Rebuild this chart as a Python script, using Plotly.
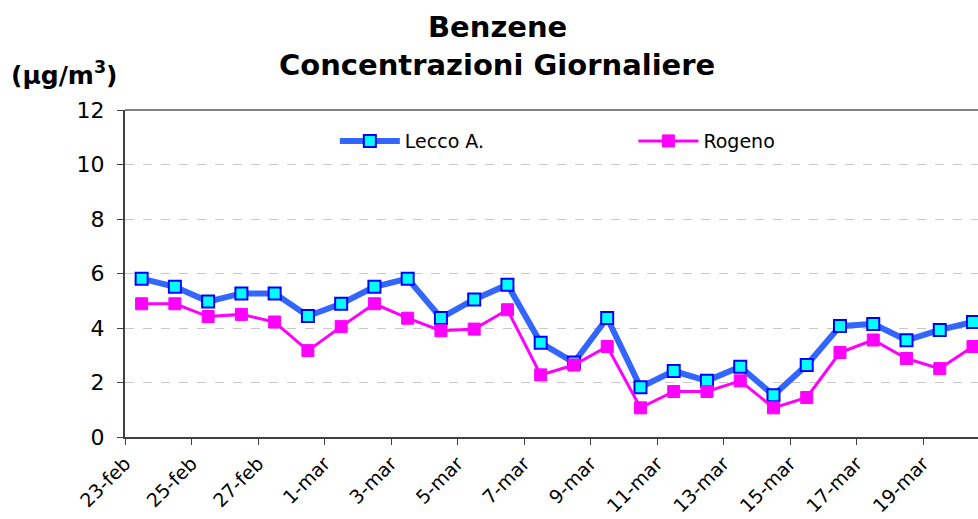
import plotly.graph_objects as go

days = ["23-feb", "24-feb", "25-feb", "26-feb", "27-feb", "28-feb",
        "1-mar", "2-mar", "3-mar", "4-mar", "5-mar", "6-mar", "7-mar",
        "8-mar", "9-mar", "10-mar", "11-mar", "12-mar", "13-mar", "14-mar",
        "15-mar", "16-mar", "17-mar", "18-mar", "19-mar", "20-mar"]

lecco = [5.81, 5.51, 4.97, 5.27, 5.27, 4.44, 4.89, 5.51, 5.81, 4.37, 5.05, 5.59, 3.46,
         2.73, 4.37, 1.83, 2.42, 2.06, 2.58, 1.53, 2.64, 4.07, 4.15, 3.55, 3.93, 4.22]

rogeno = [4.89, 4.89, 4.42, 4.50, 4.22, 3.17, 4.05, 4.89, 4.36, 3.90, 3.96, 4.67, 2.28,
          2.64, 3.32, 1.07, 1.67, 1.67, 2.06, 1.07, 1.45, 3.10, 3.56, 2.88, 2.51, 3.32]

y_ticks = [0, 2, 4, 6, 8, 10, 12]

FONT = "DejaVu Sans"
xs = list(range(len(days)))

W, H = 978, 519
ML, MT, MB = 125, 110, 82
PW, PH = W - ML, H - MT - MB

fig = go.Figure()
fig.add_trace(go.Scatter(
    x=xs, y=lecco, name="Lecco A.", mode="lines+markers", legend="legend",
    line=dict(color="#3366FF", width=6),
    marker=dict(symbol="square", size=12, color="#00FFFF",
                line=dict(color="#0000FF", width=2)),
    cliponaxis=False,
))
fig.add_trace(go.Scatter(
    x=xs, y=rogeno, name="Rogeno", mode="lines+markers", legend="legend2",
    line=dict(color="#FF00FF", width=3),
    marker=dict(symbol="square", size=12, color="#FF00FF",
                line=dict(color="#FF00FF", width=1)),
    cliponaxis=False,
))

legend_style = dict(
    orientation="h", yanchor="middle", y=0.905, xanchor="left",
    font=dict(family=FONT, size=19, color="black"),
    bgcolor="rgba(0,0,0,0)", itemwidth=60,
)

fig.update_layout(
    width=W, height=H,
    margin=dict(l=ML, r=0, t=MT, b=MB),
    paper_bgcolor="white", plot_bgcolor="white",
    font=dict(family=FONT, color="black"),
    showlegend=True,
    legend=dict(legend_style, x=0.246),
    legend2=dict(legend_style, x=0.596),
    xaxis=dict(
        range=[-0.5, 25.15],
        tickmode="array",
        tickvals=[i - 0.5 for i in xs[::2]],
        ticktext=days[::2],
        tickangle=-45,
        ticks="outside", ticklen=6, tickcolor="#404040",
        showline=True, linecolor="#404040", linewidth=2,
        showgrid=False, zeroline=False,
        tickfont=dict(family=FONT, size=19, color="black"),
    ),
    yaxis=dict(
        range=[0, 12],
        tickmode="array", tickvals=y_ticks,
        ticks="outside", ticklen=6, tickcolor="#404040",
        showline=True, linecolor="#404040", linewidth=2,
        showgrid=True, gridcolor="#C8C8C8", griddash="dash", gridwidth=1,
        zeroline=False, ticklabelstandoff=8,
        tickfont=dict(family=FONT, size=22, color="black"),
    ),
    annotations=[
        dict(text="<b>Benzene</b>", xref="paper", yref="paper",
             x=(497 - ML) / PW, y=1 + (MT - 27) / PH,
             xanchor="center", yanchor="middle", showarrow=False,
             font=dict(family=FONT, size=29, color="black")),
        dict(text="<b>Concentrazioni Giornaliere</b>", xref="paper", yref="paper",
             x=(497 - ML) / PW, y=1 + (MT - 65) / PH,
             xanchor="center", yanchor="middle", showarrow=False,
             font=dict(family=FONT, size=29, color="black")),
        dict(text="<b>(μg/m<sup>3</sup>)</b>", xref="paper", yref="paper",
             x=(9 - ML) / PW, y=1 + (MT - 73) / PH,
             xanchor="left", yanchor="middle", showarrow=False,
             font=dict(family=FONT, size=25, color="black")),
    ],
    shapes=[dict(
        type="line", xref="paper", yref="paper", x0=0, x1=1, y0=1, y1=1,
        line=dict(color="#808080", width=2), layer="below",
    )],
)

fig.write_html(
    "out.html",
    config={"displayModeBar": False},
    post_script="document.body.style.margin='0';document.body.style.overflow='hidden';",
)
